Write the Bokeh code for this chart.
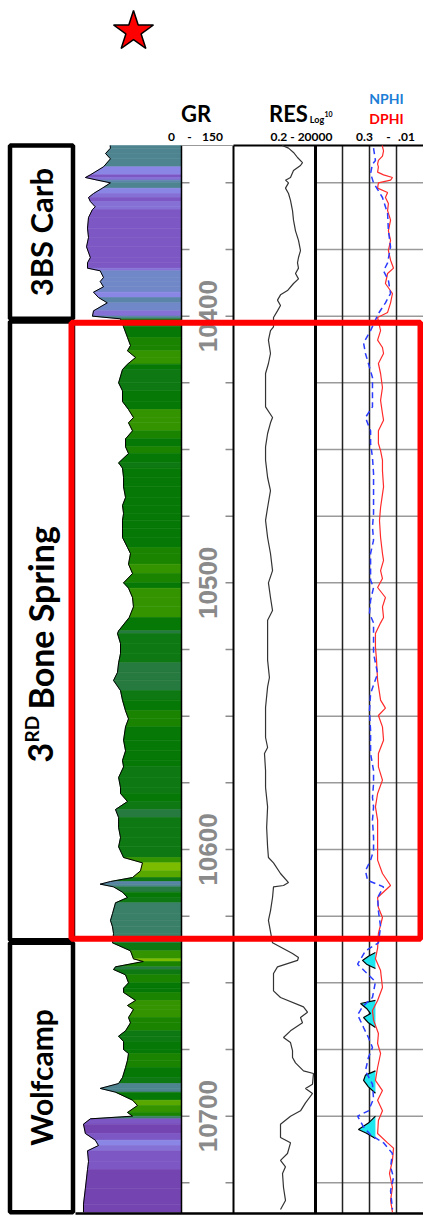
import numpy as np
from bokeh.plotting import figure
from bokeh.models import Range1d, LogScale, LinearColorMapper, ColumnDataSource
from bokeh.transform import transform
from bokeh.core.properties import value
from bokeh.embed import file_html
from bokeh.resources import INLINE

# ---------------- data ----------------
gr_depth = [10336, 10337, 10339, 10341, 10344, 10347, 10348, 10349, 10350, 10352,
            10354, 10355.5, 10357, 10359, 10360, 10363, 10367, 10370.5, 10374, 10378,
            10380, 10382, 10383, 10385.5, 10387, 10389, 10391, 10393, 10395, 10398,
            10400, 10401, 10404, 10408, 10411, 10413, 10415.5, 10418, 10420, 10425,
            10428, 10432, 10435, 10438, 10440, 10443, 10446, 10449, 10451.5, 10455,
            10457, 10460.5, 10464, 10468, 10471, 10474, 10476.5, 10479.5, 10483, 10486.75,
            10489, 10493, 10496.5, 10500, 10502, 10505.5, 10509, 10513, 10518, 10519,
            10522.75, 10526.5, 10530, 10533.6, 10536.6, 10540.4, 10544, 10548, 10551, 10554,
            10559, 10563, 10566.6, 10569, 10573, 10576.75, 10579, 10582, 10585, 10588,
            10591.75, 10595.5, 10599, 10603, 10605, 10608, 10610.5, 10612, 10613, 10614,
            10616, 10618, 10620, 10624, 10626.6, 10629, 10631.5, 10635, 10638, 10641,
            10642, 10644, 10645, 10647, 10650, 10652, 10653.6, 10656.6, 10658.5, 10660,
            10663, 10665, 10668, 10670, 10672, 10675, 10676.5, 10679, 10681.75, 10685.5,
            10687.75, 10689.6, 10691, 10694, 10696, 10698.6, 10700, 10701, 10703, 10706.5,
            10709, 10711, 10713, 10717, 10720, 10727, 10733, 10736]
gr_api = [49, 49.5, 42.5, 49.5, 39.6, 21, 14, 31, 49.5, 38,
          25.5, 18.4, 21, 28, 24, 18.4, 17, 18.4, 15.6, 21,
          17, 17, 35, 39.6, 35, 39.6, 25.5, 32.5, 45, 25.5,
          24, 63.7, 68, 73.6, 77.8, 73.6, 85, 73.6, 66.5, 61,
          66.5, 66.5, 75, 82, 75, 80.7, 70.8, 70.8, 75, 61,
          66.5, 68, 68, 70.8, 66.5, 68, 66.5, 66.5, 66.5, 73.6,
          77.8, 75, 80.7, 68, 75, 80.7, 82, 76, 61, 59.4,
          63.7, 63.7, 61, 59.4, 53.8, 63.7, 66.5, 70.8, 75, 70.8,
          68, 70.8, 66.5, 68, 61, 63.7, 63.7, 73.6, 56.6, 61,
          61, 63.7, 61, 68, 94.8, 92, 80.7, 49.5, 35, 53.8,
          66.5, 73.6, 56.6, 52.4, 49.5, 52.4, 53.8, 52.4, 77.8, 82,
          96, 56.6, 53.8, 70.8, 75, 68, 68, 85, 73.6, 82,
          75, 77.8, 70.8, 61, 68, 68, 75, 73.6, 70.8, 66.5,
          61, 35, 56.6, 80.7, 87.7, 73.6, 80.7, 21, 11.3, 14,
          28, 32.5, 17, 18.4, 17, 14, 11.3, 11.3]

res_depth = [10336, 10337, 10338.6, 10340.5, 10342.4, 10343.5, 10345.4, 10348, 10349, 10350,
             10352, 10354, 10356.6, 10360.4, 10364, 10368, 10371.6, 10375.4, 10378, 10380,
             10382, 10384, 10386, 10387.75, 10390.4, 10392, 10394, 10396, 10398, 10400.5,
             10404, 10405.4, 10409, 10414, 10417.75, 10421.5, 10429, 10434, 10438, 10440,
             10444, 10449, 10454, 10460.5, 10465.4, 10471.75, 10476.6, 10483, 10489, 10495.4,
             10500, 10505.5, 10510.4, 10514, 10521.6, 10529, 10535.5, 10539, 10546.75, 10551.6,
             10558, 10561.75, 10564, 10570.4, 10576.75, 10584, 10591.75, 10599, 10603, 10605,
             10609, 10612.4, 10613.5, 10614, 10618, 10623, 10626.6, 10635, 10639, 10640.5,
             10641.6, 10644, 10646.5, 10653, 10655.5, 10659, 10661, 10663, 10665, 10668,
             10670.5, 10672.4, 10675.4, 10678, 10680, 10683, 10684, 10688, 10689.6, 10691.5,
             10695, 10698, 10700, 10703, 10708, 10710, 10714, 10716.6, 10719, 10721.5,
             10726.75, 10731.6, 10735]
res_ohmm = [187, 452, 912, 1597, 3220, 2433, 912, 598, 296, 452,
            296, 452, 598, 793, 912, 1206, 1837, 2433, 1837, 1597,
            1837, 1206, 1837, 912, 391, 147, 96, 147, 96, 55,
            55, 36, 27, 36, 27, 18, 18, 18, 48, 36,
            24, 18, 18, 24, 36, 24, 18, 24, 36, 48,
            27, 36, 48, 24, 24, 24, 31, 24, 18, 18,
            18, 24, 15.5, 18, 18, 24, 21, 24, 27, 55,
            147, 452, 224, 55, 48, 36, 27, 48, 793, 1837,
            1597, 96, 55, 55, 147, 3709, 6500, 2433, 3220, 598,
            224, 598, 793, 793, 1206, 3709, 15100, 13120, 4910, 13120,
            4910, 2433, 598, 147, 147, 598, 391, 147, 296, 195,
            224, 296, 147]

dphi_depth = [10336, 10338, 10340, 10341.6, 10343, 10344, 10346, 10347, 10348, 10349,
              10350, 10352, 10353.6, 10355.5, 10357.75, 10360.4, 10364, 10368, 10371.6, 10375.4,
              10379, 10382, 10384, 10387.75, 10391.5, 10395, 10398.6, 10400.5, 10405.4, 10409,
              10411.75, 10414, 10417.75, 10421.5, 10426.75, 10431.6, 10436.5, 10439, 10443, 10447.75,
              10450.4, 10454, 10458, 10464, 10471.75, 10476.6, 10483, 10489, 10491.6, 10495.4,
              10498.4, 10501.75, 10505.5, 10509, 10513, 10515, 10519, 10524, 10529, 10536.6,
              10544, 10547, 10549.75, 10554, 10559, 10564, 10569, 10574, 10579, 10584,
              10589, 10594, 10599, 10604, 10609, 10613.5, 10618, 10621.75, 10625.5, 10631.5,
              10637, 10641, 10645.4, 10651.75, 10656.6, 10660.4, 10664, 10669, 10672.75, 10676.5,
              10681.75, 10686.6, 10690.4, 10694, 10698, 10701.6, 10706.5, 10710, 10712, 10716.6,
              10721.5, 10726.75, 10731.6, 10736]
dphi = [0.053, 0.048, 0.052, 0.067, 0.070, 0.067, 0.070, 0.048, 0.015, 0.022,
        0.067, 0.070, 0.033, 0.041, 0.030, 0.033, 0.022, 0.030, 0.022, 0.030,
        0.022, 0.011, 0.033, 0.041, 0.015, 0.022, 0.033, 0.070, 0.059, 0.070,
        0.052, 0.048, 0.067, 0.059, 0.052, 0.059, 0.052, 0.048, 0.067, 0.067,
        0.059, 0.052, 0.052, 0.048, 0.059, 0.063, 0.059, 0.052, 0.048, 0.059,
        0.052, 0.070, 0.041, 0.052, 0.048, 0.059, 0.078, 0.078, 0.074, 0.070,
        0.059, 0.041, 0.067, 0.052, 0.048, 0.067, 0.067, 0.052, 0.070, 0.078,
        0.070, 0.070, 0.070, 0.070, 0.052, 0.022, 0.070, 0.067, 0.052, 0.067,
        0.070, 0.078, 0.059, 0.052, 0.070, 0.089, 0.085, 0.067, 0.070, 0.059,
        0.070, 0.078, 0.052, 0.070, 0.052, 0.067, 0.070, 0.033, 0.011, 0.015,
        0.026, 0.015, 0.022, 0.015]

nphi_depth = [10337, 10341.6, 10343, 10346.5, 10350, 10355.5, 10361.5, 10368, 10374, 10380,
              10383, 10386.6, 10391.5, 10395, 10399, 10405.4, 10410, 10414, 10417.75, 10423,
              10429, 10434, 10438, 10443, 10447.75, 10453, 10459, 10465.4, 10470, 10474,
              10479, 10484, 10489, 10494, 10499, 10501.75, 10506.6, 10511.5, 10515, 10520.5,
              10526.5, 10534, 10541.5, 10548, 10555.4, 10564, 10570.4, 10575.4, 10580.5, 10584,
              10589, 10595.4, 10600.4, 10604, 10608, 10611.6, 10614, 10618, 10623, 10629,
              10635, 10638, 10643, 10649.6, 10655.5, 10659, 10662, 10666.75, 10670.5, 10674.25,
              10678, 10683, 10688, 10693.5, 10698, 10700, 10704, 10707, 10710, 10714,
              10719, 10723, 10728, 10735]
nphi = [0.085, 0.078, 0.089, 0.096, 0.085, 0.052, 0.033, 0.030, 0.022, 0.033,
        0.048, 0.030, 0.022, 0.041, 0.067, 0.096, 0.122, 0.115, 0.104, 0.089,
        0.089, 0.089, 0.115, 0.096, 0.096, 0.089, 0.085, 0.085, 0.085, 0.085,
        0.089, 0.085, 0.096, 0.096, 0.096, 0.085, 0.096, 0.100, 0.085, 0.085,
        0.085, 0.070, 0.096, 0.100, 0.096, 0.096, 0.085, 0.085, 0.089, 0.085,
        0.089, 0.085, 0.085, 0.096, 0.115, 0.107, 0.048, 0.070, 0.067, 0.059,
        0.067, 0.115, 0.144, 0.078, 0.089, 0.126, 0.144, 0.122, 0.104, 0.089,
        0.104, 0.115, 0.089, 0.085, 0.104, 0.144, 0.122, 0.096, 0.048, 0.015,
        0.022, 0.011, 0.022, 0.015]

phia_depth = [10636, 10638.6, 10640, 10641.6, 10643, 10644.6, 10647, 10653, 10656.6, 10657.75,
              10659.6, 10661.5, 10663, 10665, 10666.75, 10671.6, 10677.25, 10683, 10684.6, 10686.6,
              10689, 10691.4, 10696, 10700, 10702.6, 10705, 10706.4, 10708.4, 10710]
phia = [0.067, 0.078, 0.104, 0.126, 0.111, 0.078, 0.067, 0.070, 0.078, 0.133,
        0.111, 0.096, 0.122, 0.104, 0.078, 0.074, 0.067, 0.078, 0.115, 0.122,
        0.104, 0.078, 0.070, 0.078, 0.104, 0.141, 0.111, 0.078, 0.059]
phi_cutoff = 0.078

zone_names = ["3BS Carb", "3RD Bone Spring", "Wolfcamp"]
zone_tops = [10336, 10402, 10635]
zone_bases = [10401, 10634, 10736]
target_top, target_base = 10402.5, 10633.5

tick_depths = [10350, 10375, 10400, 10425, 10450, 10475, 10500, 10525, 10550,
               10575, 10600, 10625, 10650, 10675, 10700, 10725]
label_depths = [10400, 10500, 10600, 10700]
gr_min, gr_max = 0, 150
res_min, res_max = 0.2, 20000
phi_left, phi_right = 0.3, -0.1
phi_grid = [0.2, 0.1, 0.0]

GR_PAL = ["#7444b0", "#7d58c4", "#8570d6", "#8a86e6", "#7088c8", "#5a84a8",
          "#4e8490", "#3a7f68", "#267a40", "#0e7812", "#067806", "#1a8400",
          "#349400", "#58a800", "#7cbc00", "#a4d200"]

# ---------------- layout (page pixels) ----------------
W, H = 423, 1215
PX0, PY0 = 0, 0
TOP_PX, TOP_DEPTH, PX_PER_FT = 145, 10336, 8 / 3


def Y(py):
    return TOP_DEPTH + (py - TOP_PX) / PX_PER_FT


GR_L, GR_R = 75, 181
DEP_L, DEP_R = 181, 233
RES_L, RES_R = 233, 315
PHI_L, PHI_R = 315, 423
BOTTOM = Y(1213)

p = figure(width=W, height=H, output_backend="svg", toolbar_location=None,
           x_range=Range1d(PX0, PX0 + W), y_range=Range1d(Y(PY0 + H), Y(PY0)),
           x_axis_location=None, y_axis_location=None, min_border=0)
p.grid.visible = False
p.outline_line_color = None


def lin_range(v0, v1, px0, px1):
    k = (v1 - v0) / (px1 - px0)
    return Range1d(v0 + (PX0 - px0) * k, v0 + (PX0 + W - px0) * k)


lg0, lg1 = np.log10(res_min), np.log10(res_max)
kr = (lg1 - lg0) / (RES_R - RES_L)
p.extra_x_ranges = {
    "gr": lin_range(gr_min, gr_max, GR_L, GR_R),
    "phi": lin_range(phi_left, phi_right, PHI_L, PHI_R),
    "res": Range1d(10 ** (lg0 + (PX0 - RES_L) * kr), 10 ** (lg0 + (PX0 + W - RES_L) * kr)),
}
p.extra_x_scales = {"res": LogScale()}

# ---- GR track: colour-banded fill from curve to the right edge ----
xs, ys, mids = [], [], []
for i in range(len(gr_depth) - 1):
    xs.append([gr_api[i], gr_api[i + 1], gr_max, gr_max])
    ys.append([gr_depth[i], gr_depth[i + 1], gr_depth[i + 1], gr_depth[i]])
    mids.append(0.5 * (gr_api[i] + gr_api[i + 1]))
gsrc = ColumnDataSource(dict(xs=xs, ys=ys, mid=mids))
mapper = LinearColorMapper(palette=GR_PAL, low=10, high=100)
p.patches("xs", "ys", source=gsrc, fill_color=transform("mid", mapper),
          line_color=transform("mid", mapper), line_width=0.6, x_range_name="gr")
p.line(gr_api, gr_depth, line_color="black", line_width=1, x_range_name="gr")

# ---- depth track ticks ----
p.segment(x0=DEP_L, x1=DEP_L + 8, y0=tick_depths, y1=tick_depths, line_color="#8c8c8c", line_width=1.5)
p.segment(x0=DEP_R - 8, x1=DEP_R, y0=tick_depths, y1=tick_depths, line_color="#8c8c8c", line_width=1.5)

# ---- porosity grid ----
p.segment(x0=phi_left, x1=phi_right, y0=tick_depths, y1=tick_depths, x_range_name="phi",
          line_color="#9a9a9a", line_width=1.5)
p.segment(x0=phi_grid, x1=phi_grid, y0=Y(TOP_PX), y1=BOTTOM, x_range_name="phi",
          line_color="#222222", line_width=1.5)

# ---- track borders ----
p.segment(x0=[DEP_L], x1=[DEP_L], y0=[Y(TOP_PX)], y1=[BOTTOM], line_color="black", line_width=1.5)
p.segment(x0=[DEP_R], x1=[DEP_R], y0=[Y(TOP_PX)], y1=[BOTTOM], line_color="black", line_width=2)
p.segment(x0=[PHI_L], x1=[PHI_L], y0=[Y(TOP_PX)], y1=[BOTTOM], line_color="black", line_width=3)
p.segment(x0=[DEP_L], x1=[DEP_R], y0=[Y(TOP_PX)], y1=[Y(TOP_PX)], line_color="#999999", line_width=1)
p.segment(x0=[DEP_R], x1=[PX0 + W], y0=[Y(TOP_PX)], y1=[Y(TOP_PX)], line_color="black", line_width=2)
p.segment(x0=[GR_L], x1=[PX0 + W], y0=[BOTTOM], y1=[BOTTOM], line_color="black", line_width=2.5)

# ---- resistivity ----
p.line(res_ohmm, res_depth, x_range_name="res", line_color="#333333", line_width=1.2)

# ---- porosity ----
pa = np.array(phia)
p.harea(x1=pa, x2=np.where(pa > phi_cutoff, phi_cutoff, pa), y=phia_depth,
        fill_color="#1ee6ee", x_range_name="phi")
p.line(np.where(pa >= phi_cutoff, pa, np.nan), phia_depth, x_range_name="phi",
       line_color="black", line_width=1.2)
p.line(dphi, dphi_depth, x_range_name="phi", line_color="#ff2a2a", line_width=1.2)
p.line(nphi, nphi_depth, x_range_name="phi", line_color="#2b3cff", line_width=1.5, line_dash="6 4")

# ---- depth labels ----
p.text(x=[207] * len(label_depths), y=label_depths, text=[str(d) for d in label_depths],
       angle=np.pi / 2, text_align="center", text_baseline="middle",
       text_font=value("Liberation Sans"), text_font_style="bold", text_font_size="26px",
       text_color="#8a8a8a")

# ---- zones ----
p.quad(left=9.5, right=72.5, top=zone_tops, bottom=zone_bases, fill_color=None,
       line_color="black", line_width=4.5)
zmid = [0.5 * (a + b) for a, b in zip(zone_tops, zone_bases)]
zfont = dict(text_font=value("Lato"), text_font_style="bold", text_color="black")
p.text(x=[40], y=[zmid[0]], text=[zone_names[0]], angle=np.pi / 2,
       text_align="center", text_baseline="middle", text_font_size="31px", **zfont)
p.text(x=[40], y=[zmid[2]], text=[zone_names[2]], angle=np.pi / 2,
       text_align="center", text_baseline="middle", text_font_size="30px", **zfont)
# "3RD Bone Spring" with superscript, laid out along the rotated line
p.text(x=[40], y=[Y(762)], text=["3"], angle=np.pi / 2, text_align="left",
       text_baseline="middle", text_font_size="34px", **zfont)
p.text(x=[31], y=[Y(742)], text=["RD"], angle=np.pi / 2, text_align="left",
       text_baseline="middle", text_font_size="19px", **zfont)
p.text(x=[40], y=[Y(709)], text=["Bone Spring"], angle=np.pi / 2, text_align="left",
       text_baseline="middle", text_font_size="34px", **zfont)

# ---- target box ----
p.quad(left=[71], right=[420], top=[target_top], bottom=[target_base], fill_color=None,
       line_color="#ff0000", line_width=6)

# ---- header ----
p.scatter(x=[133], y=[Y(31)], marker="star", size=42, fill_color="#ff0000",
          line_color="black", line_width=1.5)
hf = dict(text_font=value("Lato"), text_font_style="bold", text_baseline="middle", text_align="center")
p.text(x=[195.5], y=[Y(113)], text=["GR"], text_font_size="22px", text_color="black", **hf)
p.text(x=[288], y=[Y(113)], text=["RES"], text_font_size="22px", text_color="black", **hf)
p.text(x=[316.5], y=[Y(119)], text=["Log"], text_font_size="9px", text_color="black", **hf)
p.text(x=[328], y=[Y(113)], text=["10"], text_font_size="7px", text_color="black", **hf)
p.text(x=[386], y=[Y(98)], text=["NPHI"], text_font_size="14px", text_color="#1c7ed6", **hf)
p.text(x=[386], y=[Y(118)], text=["DPHI"], text_font_size="14px", text_color="#ff0000", **hf)
p.text(x=[171, 189, 212], y=[Y(136)] * 3, text=["0", "-", "150"], text_font_size="12px",
       text_color="black", **hf)
p.text(x=[301], y=[Y(136)], text=["0.2 - 20000"], text_font_size="12px", text_color="black", **hf)
p.text(x=[364, 388, 406], y=[Y(136)] * 3, text=["0.3", "-", ".01"], text_font_size="12px",
       text_color="black", **hf)

open("out.html", "w").write(file_html(p, INLINE))
